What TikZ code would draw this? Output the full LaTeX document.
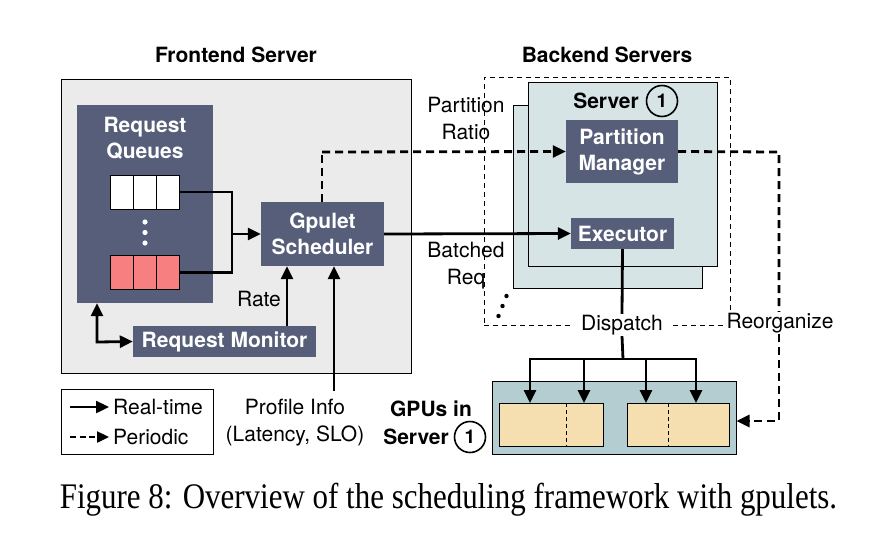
\documentclass[tikz,border=0pt]{standalone}
\usepackage{fontspec}
\setmainfont{TeX Gyre Heros}
\newfontfamily\capfont{Liberation Serif}
\usetikzlibrary{arrows.meta}
\definecolor{slate}{HTML}{575E7A}
\definecolor{fgray}{HTML}{EBEBEB}
\definecolor{srvfill}{HTML}{D6E4E6}
\definecolor{gpubox}{HTML}{B4CDD0}
\definecolor{cellfill}{HTML}{F5DFB0}
\definecolor{redcell}{HTML}{F77F7F}
\tikzset{
  dbox/.style={draw=none,fill=slate,text=white,font=\fontsize{21}{26}\selectfont\bfseries,align=center,inner sep=0pt},
  lbl/.style={font=\fontsize{21}{27}\selectfont,align=center,inner sep=1pt},
  blbl/.style={font=\fontsize{21}{27}\selectfont\bfseries,align=center,inner sep=1pt},
  conn/.style={line width=2.8pt,-{Triangle[length=13pt,width=12pt]}},
  connp/.style={line width=2.8pt},
  pconn/.style={line width=2.8pt,dash pattern=on 8pt off 5pt,-{Triangle[length=13pt,width=12pt]}},
  pconnp/.style={line width=2.8pt,dash pattern=on 8pt off 5pt},
  qcell/.style={draw,line width=1pt,minimum width=23.3pt,minimum height=34pt,inner sep=0pt},
  gcell/.style={draw,line width=1pt,fill=cellfill},
  num/.style={draw,circle,line width=1.6pt,minimum size=31pt,inner sep=0pt,font=\fontsize{19}{19}\selectfont\bfseries}
}
\begin{document}
\begin{tikzpicture}[x=1pt,y=-1pt]
\useasboundingbox (0,0) rectangle (877,536);
% titles
\node[blbl] (fstitle) at (236,55) {Frontend Server};
\node[blbl] (bstitle) at (607,55) {Backend Servers};
% frontend box
\node[draw,line width=1pt,fill=fgray,minimum width=350pt,minimum height=294pt,inner sep=0pt] (front) at (236,226) {};
% request queues
\node[dbox,minimum width=136pt,minimum height=198pt] (rq) at (145,204) {};
\node[dbox,align=center] (rqt) at (145,138) {Request\\Queues};
\node[qcell,fill=white] (q1a) at (121.7,192) {};
\node[qcell,fill=white] (q1b) at (145,192) {};
\node[qcell,fill=white] (q1c) at (168.3,192) {};
\node[qcell,fill=redcell] (q2a) at (121.7,272.5) {};
\node[qcell,fill=redcell] (q2b) at (145,272.5) {};
\node[qcell,fill=redcell] (q2c) at (168.3,272.5) {};
\fill[white] (145,222) circle (2.6pt) (145,232.5) circle (2.6pt) (145,243) circle (2.6pt);
% scheduler
\node[dbox,minimum width=123pt,minimum height=64pt] (sch) at (322.5,234) {Gpulet\\Scheduler};
\node[dbox,minimum width=183pt,minimum height=31pt] (mon) at (224.5,341.5) {Request Monitor};
\coordinate (join) at (232,234);
\draw[connp] (q1c.east) -| (join);
\draw[connp] (q2c.east) -| (join);
\draw[conn] (join) -- (sch.west);
\coordinate (ratex) at (287,0);
\draw[conn] (mon.north -| ratex) -- (sch.south -| ratex);
\node[lbl] (rate) at (259,299) {Rate};
\coordinate (mcorner) at (97,342);
\draw[line width=2.8pt,{Triangle[length=13pt,width=12pt]}-{Triangle[length=13pt,width=12pt]}] (rq.south -| mcorner) -- (mcorner) -- (mon.west);
% profile info
\coordinate (pfbot) at (334,391);
\draw[conn] (pfbot) -- (sch.south -| pfbot);
\node[lbl] (pf) at (295,423) {Profile Info\\(Latency, SLO)};
% legend
\node[draw,line width=1pt,minimum width=152pt,minimum height=65pt,inner sep=0pt] (leg) at (137,421.5) {};
\coordinate (l1a) at (70,407); \coordinate (l1b) at (109,407);
\coordinate (l2a) at (70,437); \coordinate (l2b) at (109,437);
\draw[conn,line width=2.4pt] (l1a) -- (l1b);
\draw[line width=2.4pt,dash pattern=on 6pt off 3.5pt,-{Triangle[length=12pt,width=11pt]}] (l2a) -- (l2b);
\node[lbl,anchor=west] (lrt) at (112,407) {Real-time};
\node[lbl,anchor=west] (lpd) at (112,437) {Periodic};
% backend
\node[draw,line width=1pt,dash pattern=on 5pt off 4pt,minimum width=246pt,minimum height=248pt,inner sep=0pt] (bdash) at (607,201) {};
\node[draw,line width=1pt,fill=srvfill,minimum width=189pt,minimum height=183pt,inner sep=0pt] (srvb) at (607.5,196.5) {};
\node[draw,line width=1pt,fill=srvfill,minimum width=189pt,minimum height=184pt,inner sep=0pt] (srvf) at (622.5,174) {};
\node[blbl] (srvt) at (606,101) {Server};
\node[num] (n1) at (662,101) {1};
\node[dbox,minimum width=112pt,minimum height=63pt] (pm) at (622,151.5) {Partition\\Manager};
\node[dbox,minimum width=103pt,minimum height=31pt] (ex) at (622.5,233.5) {Executor};
\node[lbl] (pr) at (466,118) {Partition\\Ratio};
\node[lbl] (br) at (466,266) {Batched\\Req};
\fill (506.5,296) circle (2.2pt) (502.5,306) circle (2.2pt) (498.5,316) circle (2.2pt);
% dispatch & reorganize labels
\node[lbl,fill=white,inner xsep=10pt] (disp) at (622,325) {Dispatch};
\node[lbl,fill=white,inner xsep=4pt] (reorg) at (780,323) {Reorganize};
% connectors to backend
\coordinate (schtop) at (322,152);
\draw[pconnp] (sch.north -| schtop) -- (schtop);
\draw[pconn] (schtop) -- (pm.west);
\draw[conn] (sch.east) -- (ex.west);
% GPUs
\node[draw,line width=1pt,fill=gpubox,minimum width=244pt,minimum height=73pt,inner sep=0pt] (gpu) at (614,417.5) {};
\node[gcell,minimum width=104pt,minimum height=43pt,inner sep=0pt] (g1) at (551,424.5) {};
\node[gcell,minimum width=102pt,minimum height=43pt,inner sep=0pt] (g2) at (678,424.5) {};
\draw[line width=1pt,dash pattern=on 4pt off 3pt] (566,403) -- (566,446);
\draw[line width=1pt,dash pattern=on 4pt off 3pt] (668,403) -- (668,446);
\node[blbl,anchor=center] (gpt1) at (431,409) {GPUs in};
\node[blbl,anchor=center] (gpt2) at (416,437) {Server};
\node[num] (n2) at (470,437) {1};
% dispatch lines
\draw[connp] (ex.south) -- (disp.north);
\coordinate (dbar) at (623,359);
\draw[connp] (disp.south) -- (dbar);
\draw[connp] (530,359) -- (696,359);
\foreach \xx in {530,584,646,696} \draw[conn] (\xx,358) -- (\xx,403);
% reorganize
\coordinate (rtop) at (779,152);
\coordinate (rbot) at (779,421);
\draw[pconnp] (pm.east) -- (rtop) -- (reorg.north -| rtop);
\draw[pconn] (reorg.south -| rtop) -- (rbot) -- (gpu.east |- rbot);
% caption
\node[font=\capfont\fontsize{36}{40}\selectfont,inner sep=0pt] (cap) at (448.5,500) {\scalebox{0.86}[1]{Figure 8: Overview of the scheduling framework with gpulets.}};
\end{tikzpicture}
\end{document}
